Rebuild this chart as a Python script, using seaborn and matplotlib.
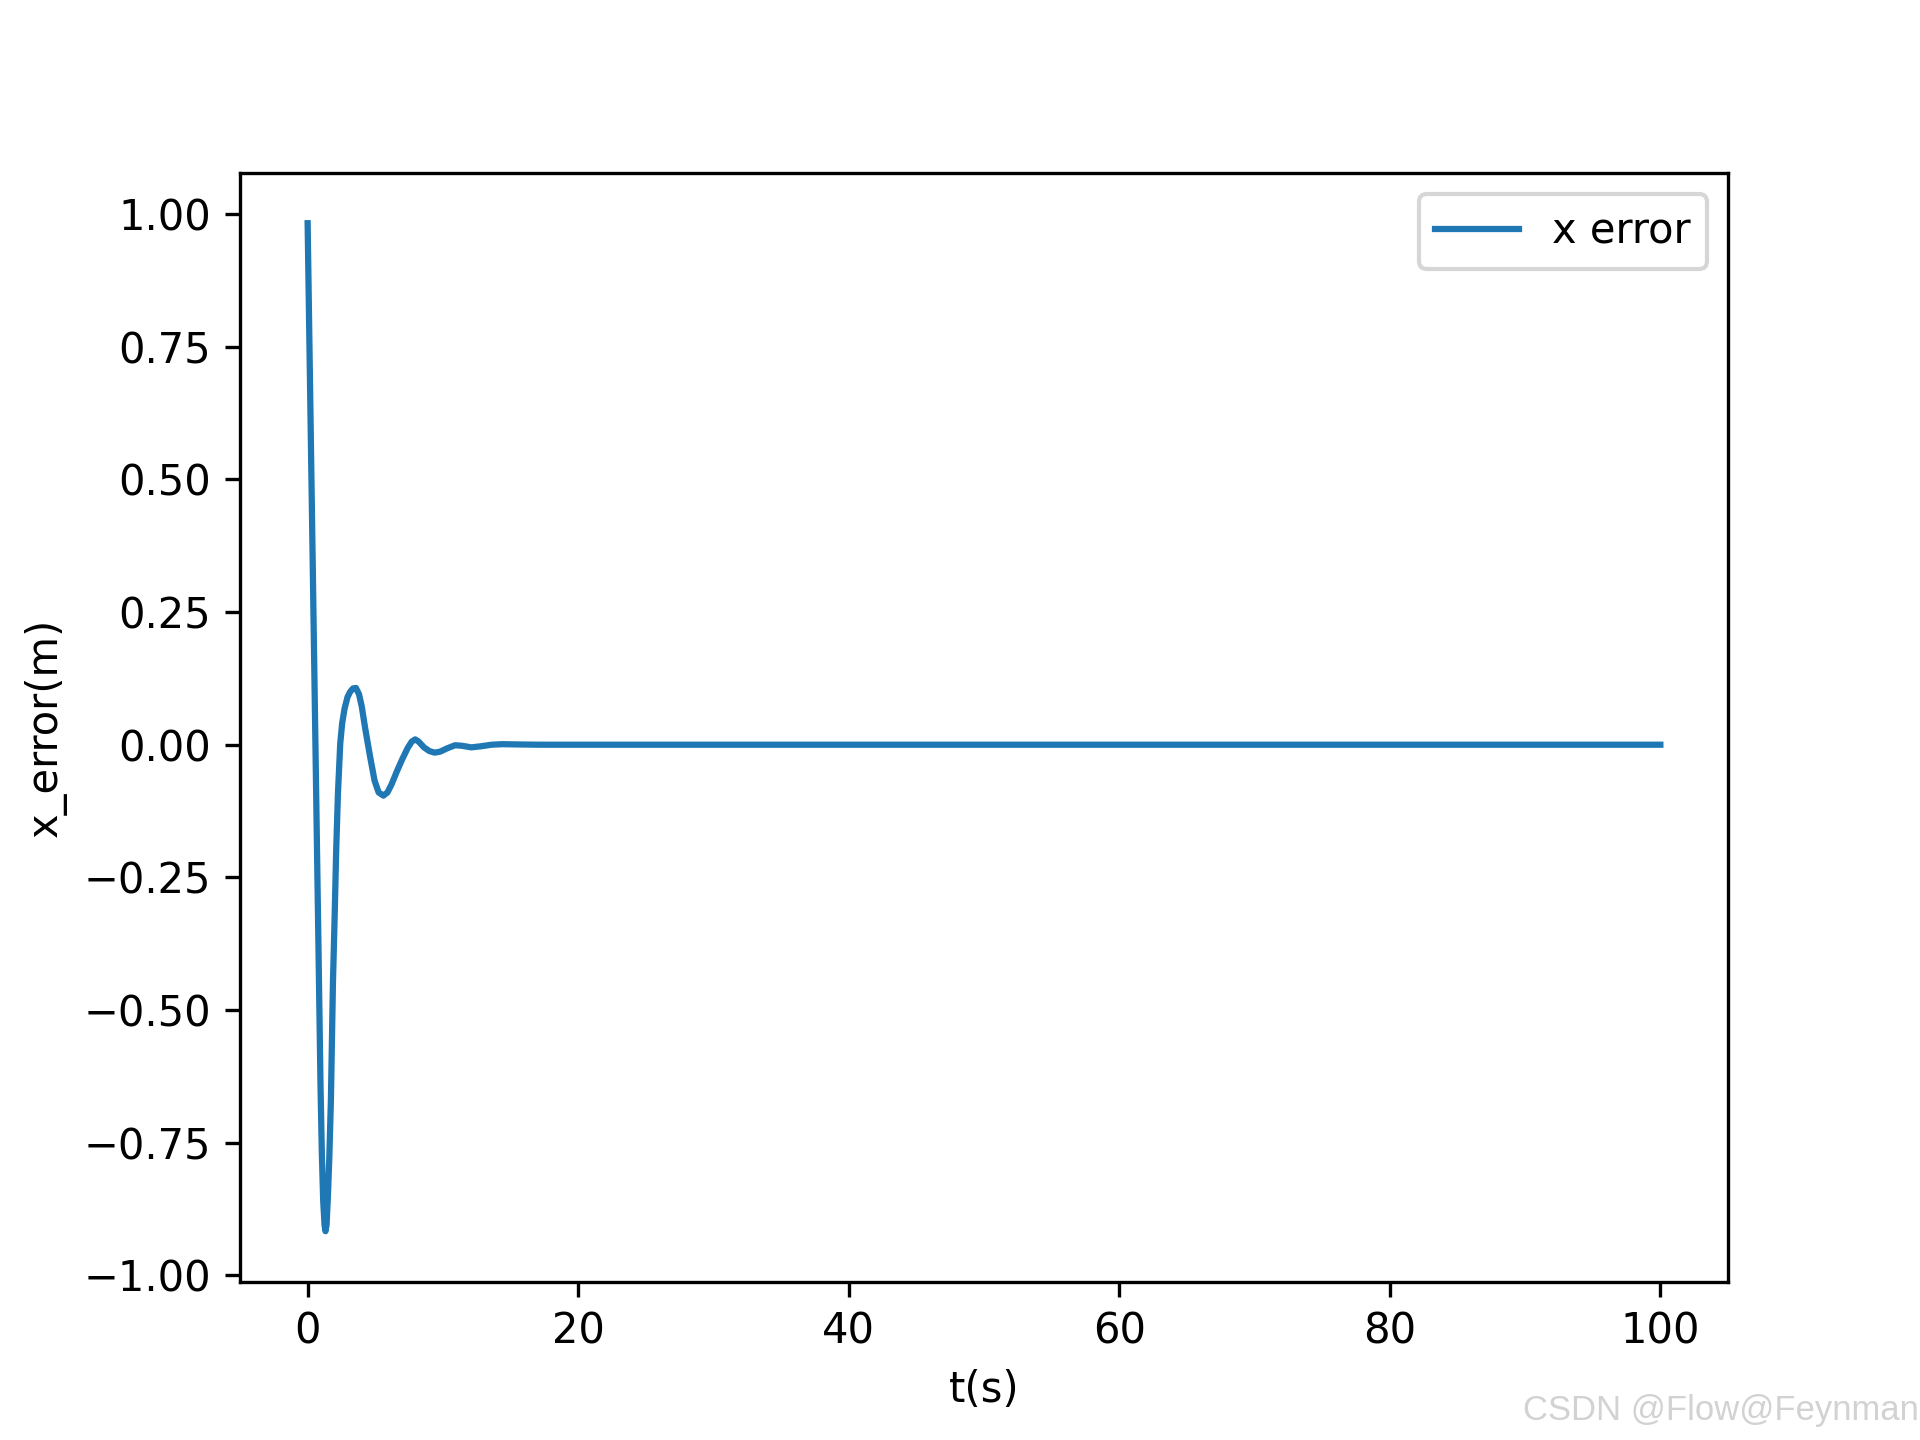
import matplotlib
matplotlib.use("Agg")
import matplotlib.pyplot as plt
import seaborn as sns
import pandas as pd

t_values = [0, 0.2, 0.4, 0.6, 0.8, 0.95, 1.05, 1.15, 1.25, 1.32, 1.4, 1.5, 1.6,
            1.72, 1.87, 2.0, 2.11, 2.24, 2.41, 2.55, 2.73, 2.95, 3.15, 3.35,
            3.57, 3.8, 4.0, 4.26, 4.6, 4.95, 5.25, 5.6, 5.9, 6.2, 6.6, 7.0,
            7.4, 7.7, 7.95, 8.2, 8.6, 9.0, 9.4, 9.8, 10.3, 10.9, 11.4, 12.1,
            12.8, 13.6, 14.4, 15.5, 17, 20, 30, 40, 50, 60, 70, 80, 90, 100]
x_error = [0.983, 0.64, 0.30, -0.04, -0.38, -0.64, -0.77, -0.86, -0.905, -0.917,
           -0.905, -0.85, -0.78, -0.67, -0.45, -0.32, -0.20, -0.092, 0.002,
           0.04, 0.068, 0.09, 0.100, 0.106, 0.107, 0.095, 0.072, 0.030,
           -0.020, -0.068, -0.090, -0.096, -0.09, -0.075, -0.05, -0.027,
           -0.006, 0.006, 0.010, 0.006, -0.005, -0.012, -0.015, -0.013,
           -0.007, -0.001, -0.002, -0.005, -0.003, 0.0, 0.001, 0.0005, 0.0,
           0.0, 0.0, 0.0, 0.0, 0.0, 0.0, 0.0, 0.0, 0.0]

series_label = "x error"
x_label = "t(s)"
y_label = "x_error(m)"
watermark = "CSDN @Flow@Feynman"

df = pd.DataFrame({"t": t_values, "x_error": x_error})

fig, ax = plt.subplots(figsize=(6.4, 4.8), dpi=300)
sns.lineplot(data=df, x="t", y="x_error", ax=ax, color="#1f77b4",
             linewidth=1.5, label=series_label, estimator=None, sort=True)
ax.set_xlabel(x_label)
ax.set_ylabel(y_label)
ax.set_yticks([-1.0, -0.75, -0.5, -0.25, 0.0, 0.25, 0.5, 0.75, 1.0])
ax.legend(loc="upper right")

fig.text(0.9995, 0.009, watermark, ha="right", va="bottom", fontsize=8.3,
         color="#d2d2d2", family=["Liberation Sans", "DejaVu Sans"])

fig.savefig("out.png", dpi=300)
